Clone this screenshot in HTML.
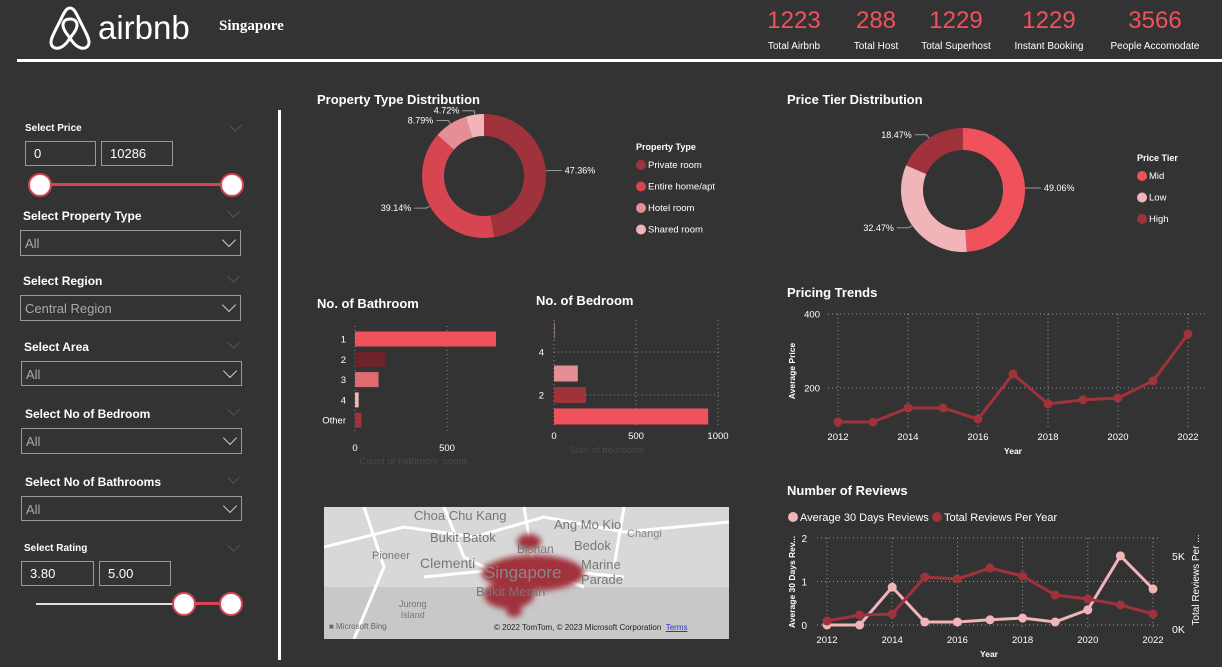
<!DOCTYPE html>
<html><head><meta charset="utf-8">
<style>
body{margin:0;background:#333;width:1222px;height:667px;overflow:hidden;font-family:"Liberation Sans",sans-serif;color:#fff;position:relative}
.a{position:absolute}
.lbl{font-weight:bold;font-size:12px;color:#fff}
.sm{font-size:10px}
.box{position:absolute;border:1px solid #999;box-sizing:border-box;font-size:13px;color:#fff;padding:4px 8px}
.dd{position:absolute;border:1px solid #999;box-sizing:border-box;font-size:13px;color:#aaa;padding:5px 4px}
.chev{position:absolute;right:6px;top:4px;width:9px;height:9px;border-right:1.5px solid #ccc;border-bottom:1.5px solid #ccc;transform:rotate(45deg)}
.kn{position:absolute;color:#f0525c;font-size:24px;text-align:center;width:110px}
.kl{position:absolute;font-size:10px;text-align:center;width:110px;color:#fff}
.ttl{position:absolute;font-weight:bold;font-size:13px;color:#fff}
.dim{position:absolute;width:8px;height:8px;border-right:1px solid #555;border-bottom:1px solid #555;transform:rotate(45deg)}
</style></head><body>
<svg class="a" style="left:48px;top:5px" width="44" height="46" viewBox="0 0 44 46"><path d="M22 3 C18 3 16 8 12 16 C7 26 3 33 3 37 C3 42 7 44 11 43 C15 42 19 38 22 33 C25 38 29 42 33 43 C37 44 41 42 41 37 C41 33 37 26 32 16 C28 8 26 3 22 3 Z M22 33 C18 28 15 24 15 20 C15 16 18 14 22 14 C26 14 29 16 29 20 C29 24 26 28 22 33 Z" fill="none" stroke="#fff" stroke-width="3"/></svg>
<div class="a" style="left:98px;top:9px;font-size:33px;font-weight:normal;letter-spacing:0px">airbnb</div>
<div class="a" style="left:219px;top:18px;font-family:'Liberation Serif',serif;font-weight:bold;font-size:15px">Singapore</div>

<div class="kn" style="left:739px;top:7px">1223</div>
<div class="kl" style="left:739px;top:41px">Total Airbnb</div>
<div class="kn" style="left:821px;top:7px">288</div>
<div class="kl" style="left:821px;top:41px">Total Host</div>
<div class="kn" style="left:901px;top:7px">1229</div>
<div class="kl" style="left:901px;top:41px">Total Superhost</div>
<div class="kn" style="left:994px;top:7px">1229</div>
<div class="kl" style="left:994px;top:41px">Instant Booking</div>
<div class="kn" style="left:1100px;top:7px">3566</div>
<div class="kl" style="left:1100px;top:41px">People Accomodate</div>

<div class="a" style="left:17px;top:59px;width:1205px;height:3px;background:#fff"></div>
<div class="a" style="left:278px;top:110px;width:3px;height:550px;background:#fff"></div>

<div class="a lbl sm" style="left:25px;top:123px">Select Price</div>
<div class="dim" style="left:231px;top:121px"></div>
<div class="box" style="left:25px;top:141px;width:71px;height:25px">0</div>
<div class="box" style="left:101px;top:141px;width:72px;height:25px">10286</div>
<div class="a" style="left:40px;top:183px;width:192px;height:3px;background:#d64550"></div>
<div class="a" style="left:28px;top:173px;width:20px;height:20px;border-radius:50%;background:#fff;border:2px solid #d64550"></div>
<div class="a" style="left:220px;top:173px;width:20px;height:20px;border-radius:50%;background:#fff;border:2px solid #d64550"></div>

<div class="a lbl" style="left:23px;top:209px">Select Property Type</div>
<div class="dim" style="left:229px;top:207px"></div>
<div class="dd" style="left:20px;top:230px;width:221px;height:26px">All<div class="chev"></div></div>
<div class="a lbl" style="left:23px;top:274px">Select Region</div>
<div class="dim" style="left:229px;top:272px"></div>
<div class="dd" style="left:20px;top:295px;width:221px;height:26px">Central Region<div class="chev"></div></div>
<div class="a lbl" style="left:24px;top:340px">Select Area</div>
<div class="dim" style="left:229px;top:338px"></div>
<div class="dd" style="left:21px;top:361px;width:221px;height:25px">All<div class="chev"></div></div>
<div class="a lbl" style="left:25px;top:407px">Select No of Bedroom</div>
<div class="dim" style="left:229px;top:405px"></div>
<div class="dd" style="left:21px;top:428px;width:221px;height:26px">All<div class="chev"></div></div>
<div class="a lbl" style="left:25px;top:475px">Select No of Bathrooms</div>
<div class="dim" style="left:229px;top:473px"></div>
<div class="dd" style="left:21px;top:496px;width:221px;height:25px">All<div class="chev"></div></div>
<div class="a lbl sm" style="left:24px;top:543px">Select Rating</div>
<div class="dim" style="left:229px;top:541px"></div>
<div class="box" style="left:21px;top:561px;width:73px;height:25px">3.80</div>
<div class="box" style="left:99px;top:561px;width:72px;height:25px">5.00</div>
<div class="a" style="left:36px;top:603px;width:148px;height:2px;background:#ddd"></div>
<div class="a" style="left:184px;top:602px;width:47px;height:3px;background:#d64550"></div>
<div class="a" style="left:172px;top:592px;width:20px;height:20px;border-radius:50%;background:#fff;border:2px solid #d64550"></div>
<div class="a" style="left:219px;top:592px;width:20px;height:20px;border-radius:50%;background:#fff;border:2px solid #d64550"></div>

<div class="ttl" style="left:317px;top:92px">Property Type Distribution</div>
<div class="ttl" style="left:787px;top:92px">Price Tier Distribution</div>
<div class="ttl" style="left:317px;top:296px">No. of Bathroom</div>
<div class="ttl" style="left:536px;top:293px">No. of Bedroom</div>
<div class="ttl" style="left:787px;top:285px">Pricing Trends</div>
<div class="ttl" style="left:787px;top:483px">Number of Reviews</div>

<div class="a" style="left:324px;top:507px;width:405px;height:132px;background:#c8c8c8;overflow:hidden">
<svg width="405" height="132" style="position:absolute;left:0;top:0">
<rect x="0" y="0" width="405" height="80" fill="#d8d8d8"/>
<path d="M0 40 L80 20 L150 30 L220 10 L300 25 L405 15 M40 0 L60 60 L30 132 M120 0 L140 50 L180 70 M200 0 L210 60 L260 80 M300 0 L290 60 M100 70 L200 60 L300 70" stroke="#fff" stroke-width="3" fill="none"/>
<g fill="#a0323c" style="filter:blur(3px)"><ellipse cx="210" cy="66" rx="50" ry="18"/><ellipse cx="185" cy="88" rx="25" ry="14"/><ellipse cx="205" cy="35" rx="12" ry="8"/><ellipse cx="170" cy="66" rx="12" ry="10"/><ellipse cx="190" cy="104" rx="8" ry="6"/></g>
</svg>
<div class="a" style="left:90px;top:1px;font-size:13px;color:#777">Choa Chu Kang</div>
<div class="a" style="left:230px;top:10px;font-size:13px;color:#777">Ang Mo Kio</div>
<div class="a" style="left:106px;top:23px;font-size:13px;color:#777">Bukit Batok</div>
<div class="a" style="left:193px;top:35px;font-size:12px;color:#777">Bishan</div>
<div class="a" style="left:250px;top:31px;font-size:13px;color:#777">Bedok</div>
<div class="a" style="left:303px;top:21px;font-size:11px;color:#888">Changi</div>
<div class="a" style="left:48px;top:43px;font-size:11px;color:#777">Pioneer</div>
<div class="a" style="left:96px;top:48px;font-size:14px;color:#777">Clementi</div>
<div class="a" style="left:160px;top:56px;font-size:17px;color:#888">Singapore</div>
<div class="a" style="left:257px;top:50px;font-size:13px;color:#777;line-height:15px">Marine<br>Parade</div>
<div class="a" style="left:152px;top:77px;font-size:13px;color:#777">Bukit Merah</div>
<div class="a" style="left:75px;top:92px;font-size:9px;color:#777;text-align:center;line-height:11px">Jurong<br>Island</div>
<div class="a" style="left:5px;top:115px;font-size:8px;color:#666">■ Microsoft Bing</div>
<div class="a" style="left:170px;top:116px;font-size:8px;color:#222">© 2022 TomTom, © 2023 Microsoft Corporation &nbsp;<span style="color:#33c;text-decoration:underline">Terms</span></div>
</div>

<svg id="ch" class="a" style="left:0;top:0" width="1222" height="667" font-family="Liberation Sans, sans-serif"></svg>
<script>
const ptCats=["Private room","Entire home/apt","Hotel room","Shared room"];
const ptVals=[47.36,39.14,8.79,4.72];
const ptCols=["#a0323c","#d64550","#e58e96","#f0b4b9"];
const tierCats=["Mid","Low","High"];
const tierVals=[49.06,32.47,18.47];
const tierCols=["#f0525c","#f0b4b9","#a0323c"];
const bathCats=["1","2","3","4","Other"];
const bathVals=[766,165,128,20,35];
const bathCols=["#f0525c","#6e222a","#e06a72","#f0b4b9","#a0323c"];
const bathTicks=[0,500];
const bedCats=[5,3,2,1];
const bedVals=[3,145,195,940];
const bedCols=["#f0b4b9","#e58e96","#a0323c","#f0525c"];
const bedXTicks=[0,500,1000];
const bedYTicks=[4,2];
const years=[2012,2013,2014,2015,2016,2017,2018,2019,2020,2021,2022];
const avgPrice=[108,108,146,146,116,238,157,168,173,219,346];
const priceTicks=[200,400];
const yearTicks=[2012,2014,2016,2018,2020,2022];
const avg30=[0,0,0.87,0.07,0.07,0.12,0.16,0.07,0.35,1.59,0.83];
const totalRev=[410,820,890,3420,3290,4040,3490,2190,1920,1510,890];
const revLTicks=[0,1,2];
const revRTicks=[[0,"0K"],[5000,"5K"]];

const svg=document.getElementById('ch');const NS='http://www.w3.org/2000/svg';
function mk(t,at,parent){const e=document.createElementNS(NS,t);for(const k in at)e.setAttribute(k,at[k]);(parent||svg).appendChild(e);return e;}
function txt(x,y,s,at){const e=mk('text',Object.assign({x:x,y:y,fill:'#fff','font-size':10},at||{}));e.textContent=s;return e;}
function arc(cx,cy,r0,r1,a0,a1){const p=(r,a)=>[cx+r*Math.sin(a),cy-r*Math.cos(a)];const l=(a1-a0)>Math.PI?1:0;const[x1,y1]=p(r1,a0),[x2,y2]=p(r1,a1),[x3,y3]=p(r0,a1),[x4,y4]=p(r0,a0);return `M${x1} ${y1}A${r1} ${r1} 0 ${l} 1 ${x2} ${y2}L${x3} ${y3}A${r0} ${r0} 0 ${l} 0 ${x4} ${y4}Z`;}
function donut(cx,cy,vals,cols,names,prefix,lx,ly,title){
  const tot=vals.reduce((a,b)=>a+b,0);let a=0;
  vals.forEach((v,i)=>{const a1=a+v/tot*2*Math.PI;
    const s=mk('path',{d:arc(cx,cy,40,62,a,a1),fill:cols[i]});
    
    
    const m=(a+a1)/2;const ex=cx+66*Math.sin(m),ey=cy-66*Math.cos(m);const right=Math.sin(m)>=0;
    const ex2=ex+(right?12:-12);
    mk('polyline',{points:`${cx+62*Math.sin(m)},${cy-62*Math.cos(m)} ${ex},${ey} ${ex2},${ey}`,stroke:'#999',fill:'none'});
    const t=txt(ex2+(right?3:-3),ey+3,v.toFixed(2)+'%',{'text-anchor':right?'start':'end','font-size':9});
    
    
    a=a1;});
  txt(lx,ly,title,{'font-weight':'bold','font-size':9});
  names.forEach((n,i)=>{const y=ly+18+i*21.5;
    const c=mk('circle',{cx:lx+5,cy:y-3,r:5,fill:cols[i]});
    
    
    txt(lx+12,y,n,{'font-size':9.5});});
}
donut(484,176,ptVals,ptCols,ptCats,'property-type',636,150,'Property Type');
donut(963,190,tierVals,tierCols,tierCats,'price-tier',1137,161,'Price Tier');

{const x0=355,sx=v=>x0+v*0.184;const yc=i=>339+i*20.3;
 bathTicks.forEach(t=>{if(t>0)mk('line',{x1:sx(t),x2:sx(t),y1:326,y2:433,stroke:'#888','stroke-dasharray':'1 3'});txt(sx(t),451,t,{'text-anchor':'middle','font-size':9.5});});
 mk('line',{x1:x0,x2:x0,y1:326,y2:433,stroke:'#888','stroke-dasharray':'1 3'});
 bathCats.forEach((c,i)=>{const r=mk('rect',{x:x0,y:yc(i)-7.5,width:sx(bathVals[i])-x0,height:15,fill:bathCols[i]});
  
  
  txt(346,yc(i)+3.5,c,{'text-anchor':'end','font-size':9.5});});
 txt(413,464,'Count of bathroom_count',{'text-anchor':'middle',fill:'#4a4a4a','font-size':9.5});}

{const x0=554,sx=v=>x0+v*0.164;const sy=v=>438-v*21.5;
 bedYTicks.forEach(t=>{mk('line',{x1:x0,x2:720,y1:sy(t),y2:sy(t),stroke:'#888','stroke-dasharray':'1 3'});txt(544,sy(t)+3.5,t,{'text-anchor':'end','font-size':9.5});});
 bedXTicks.forEach(t=>{if(t>0)mk('line',{x1:sx(t),x2:sx(t),y1:320,y2:428,stroke:'#888','stroke-dasharray':'1 3'});txt(sx(t),439,t,{'text-anchor':'middle','font-size':9.5});});
 mk('line',{x1:x0,x2:x0,y1:320,y2:428,stroke:'#888','stroke-dasharray':'1 3'});
 bedCats.forEach((c,i)=>{const r=mk('rect',{x:x0,y:sy(c)-8,width:sx(bedVals[i])-x0,height:16,fill:bedCols[i]});
  
  });
 txt(607,453,'Sum of bedrooms',{'text-anchor':'middle',fill:'#4a4a4a','font-size':9.5});}

{const sx=y=>838+(y-2012)*35,sy=v=>388-(v-200)*0.37;
 priceTicks.forEach(t=>{mk('line',{x1:828,x2:1205,y1:sy(t),y2:sy(t),stroke:'#999','stroke-dasharray':'1 3'});txt(820,sy(t)+3.5,t,{'text-anchor':'end','font-size':9.5});});
 yearTicks.forEach(y=>{mk('line',{x1:sx(y),x2:sx(y),y1:314,y2:428,stroke:'#999','stroke-dasharray':'1 3'});txt(sx(y),440,y,{'text-anchor':'middle','font-size':9.5});});
 const l=mk('polyline',{points:years.map((y,i)=>sx(y)+','+sy(avgPrice[i])).join(' '),stroke:'#a0323c','stroke-width':3,fill:'none'});
 
 
 years.forEach((y,i)=>{const c=mk('circle',{cx:sx(y),cy:sy(avgPrice[i]),r:4.5,fill:'#a0323c'});
  
  });
 txt(1013,454,'Year',{'text-anchor':'middle','font-weight':'bold','font-size':8.5});
 txt(0,0,'Average Price',{transform:'translate(795,371) rotate(-90)','text-anchor':'middle','font-weight':'bold','font-size':8.5});}

{const sx=y=>827+(y-2012)*32.6,sl=v=>625-v*43.5,sr=v=>627-v*0.0146;
 revLTicks.forEach(t=>{mk('line',{x1:817,x2:1160,y1:sl(t),y2:sl(t),stroke:'#999','stroke-dasharray':'1 3'});txt(807,sl(t)+4,t,{'text-anchor':'end','font-size':10});});
 revRTicks.forEach(t=>txt(1172,sr(t[0])+6,t[1],{'font-size':10.5}));
 yearTicks.forEach(y=>{mk('line',{x1:sx(y),x2:sx(y),y1:538,y2:628,stroke:'#999','stroke-dasharray':'1 3'});txt(sx(y),643,y,{'text-anchor':'middle','font-size':9.5});});
 const l1=mk('polyline',{points:years.map((y,i)=>sx(y)+','+sl(avg30[i])).join(' '),stroke:'#f0b4b9','stroke-width':3,fill:'none'});
 
 
 const l2=mk('polyline',{points:years.map((y,i)=>sx(y)+','+sr(totalRev[i])).join(' '),stroke:'#a0323c','stroke-width':3,fill:'none'});
 
 
 years.forEach((y,i)=>{const c=mk('circle',{cx:sx(y),cy:sl(avg30[i]),r:4.5,fill:'#f0b4b9'});
  
  
  const d=mk('circle',{cx:sx(y),cy:sr(totalRev[i]),r:4.5,fill:'#a0323c'});
  
  });
 const g1=mk('circle',{cx:793,cy:517,r:5,fill:'#f0b4b9'});
 
 
 txt(800,521,'Average 30 Days Reviews',{'font-size':11});
 const g2=mk('circle',{cx:937,cy:517,r:5,fill:'#a0323c'});
 
 
 txt(944,521,'Total Reviews Per Year',{'font-size':11});
 txt(989,657,'Year',{'text-anchor':'middle','font-weight':'bold','font-size':8.5});
 txt(0,0,'Average 30 Days Rev...',{transform:'translate(795,582) rotate(-90)','text-anchor':'middle','font-weight':'bold','font-size':8.5});
 txt(0,0,'Total Reviews Per ...',{transform:'translate(1199,580) rotate(-90)','text-anchor':'middle','font-size':10});}
</script>
</body></html>
